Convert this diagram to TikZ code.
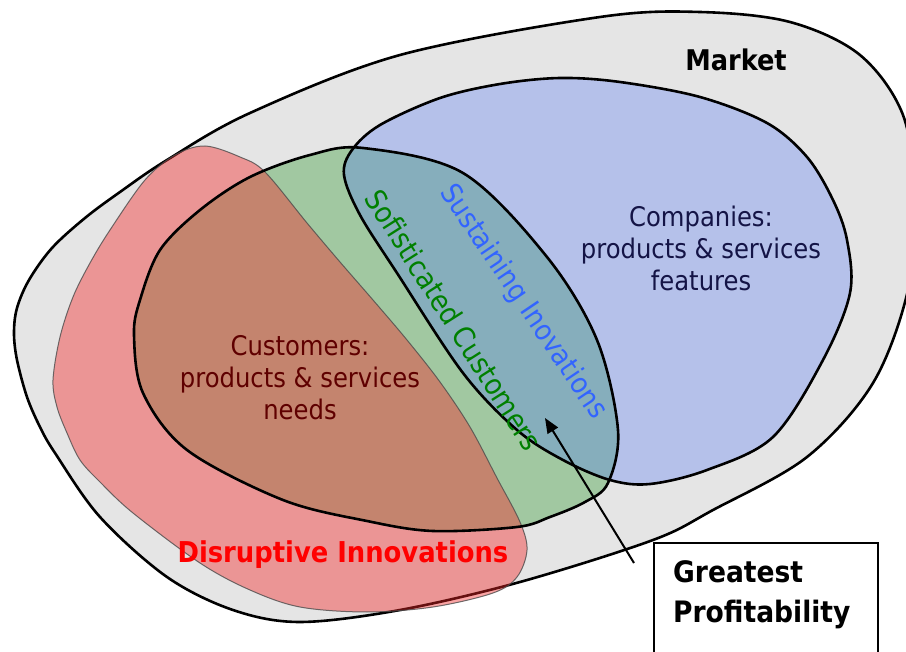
\documentclass[tikz,border=0pt]{standalone}
\usepackage{fontspec}
\setmainfont{DejaVu Sans Condensed}
\usetikzlibrary{arrows.meta}
\definecolor{mkt}{RGB}{229,229,229}
\definecolor{grn}{RGB}{20,140,20}
\definecolor{blu}{RGB}{80,120,245}
\definecolor{rd}{RGB}{245,40,40}
\definecolor{navy}{RGB}{20,20,70}
\definecolor{maroon}{RGB}{95,0,0}
\definecolor{sgreen}{RGB}{0,128,0}
\definecolor{sblue}{RGB}{50,100,255}
\tikzset{
  outline/.style={draw=black, line width=2.6pt},
  marketfill/.style={fill=mkt},
  greenfill/.style={fill=grn, fill opacity=0.32},
  bluefill/.style={fill=blu, fill opacity=0.32},
  redfill/.style={fill=rd, fill opacity=0.42, draw=gray!60!black, draw opacity=0.8, line width=1pt},
  lbl/.style={inner sep=0pt, align=center},
}
\begin{document}
\begin{tikzpicture}[x=1pt,y=-1pt]
\useasboundingbox (0,0) rectangle (906,652);
\fill[white] (0,0) rectangle (906,652);
% Market
\path[marketfill, outline] plot[smooth cycle, tension=0.55] coordinates {
 (700,12) (790,22) (860,55) (903,115) (915,200) (908,290) (873,383) (807,457)
 (713,510) (653,540) (520,582) (400,610) (300,622) (233,610) (167,577) (100,517)
 (55,453) (40,427) (27,397) (17,360) (14,333) (17,308) (29,280) (52,248) (85,218)
 (120,192) (167,160) (250,113) (400,55) (600,17)};
% Customers (green), Companies (blue), Disruptive (red)
\def\greenpath{plot[smooth cycle, tension=0.55] coordinates {
 (134,335) (140,300) (160,250) (200,210) (250,177) (310,155) (363,148) (463,173)
 (547,257) (597,340) (618,430) (608,483) (585,502) (550,517) (517,527) (433,531)
 (367,521) (283,500) (187,450) (143,393)}}
\def\bluepath{plot[smooth cycle, tension=0.55] coordinates {
 (344,175) (352,150) (380,125) (440,98) (500,84) (560,78) (620,82) (700,97) (767,123)
 (807,157) (833,200) (847,240) (850,293) (823,360) (773,437) (707,470) (650,484)
 (610,480) (563,460) (517,430) (463,373) (397,273) (360,215)}}
\def\redpath{plot[smooth cycle, tension=0.55] coordinates {
 (53,380) (57,407) (67,433) (80,460) (100,482) (133,513) (200,563) (250,590) (300,607) (367,612)
 (433,607) (493,593) (517,577) (527,550) (520,522) (497,478) (470,427) (440,382)
 (407,340) (373,300) (340,262) (307,223) (265,172) (240,157) (205,146) (175,155)
 (145,180) (110,230) (90,263) (73,297) (60,337)}}
\path[greenfill] \greenpath;
\path[bluefill] \bluepath;
\path[redfill] \redpath;
\draw[outline] \greenpath;
\draw[outline] \bluepath;
% labels
\node[lbl, font=\bfseries\fontsize{28.5}{28.5}\selectfont] (market) at (736,60) {Market};
\node[lbl, text=navy, font=\fontsize{27}{32}\selectfont] (companies) at (701,248) {Companies:\\products \& services\\features};
\node[lbl, text=maroon, font=\fontsize{27}{32}\selectfont] (customers) at (300,378) {Customers:\\products \& services\\needs};
\node[lbl, font=\bfseries\fontsize{28.7}{28.7}\selectfont, text=red] (disruptive) at (343,555) {Disruptive Innovations};
\node[lbl, text=sgreen, font=\fontsize{29}{29}\selectfont, rotate=-57.5] (sofis) at (454,320) {Sofisticated Customers};
\node[lbl, text=sblue, font=\fontsize{28.5}{28.5}\selectfont, rotate=-56] (sustain) at (523,302) {Sustaining Inovations};
% box
\draw[line width=2.2pt] (654,543) rectangle (878,670);
\node[inner sep=0pt, anchor=base west, font=\bfseries\fontsize{29.5}{29.5}\selectfont] (greatest) at (673,583) {Greatest};
\node[inner sep=0pt, anchor=base west, font=\bfseries\fontsize{29.5}{29.5}\selectfont] (profit) at (673,622) {Profitability};
\coordinate (tail) at (634,563);
\coordinate (tip) at (545,418);
\draw[line width=2pt, -{Triangle[length=15pt,width=12pt]}] (tail) -- (tip);
\end{tikzpicture}
\end{document}
